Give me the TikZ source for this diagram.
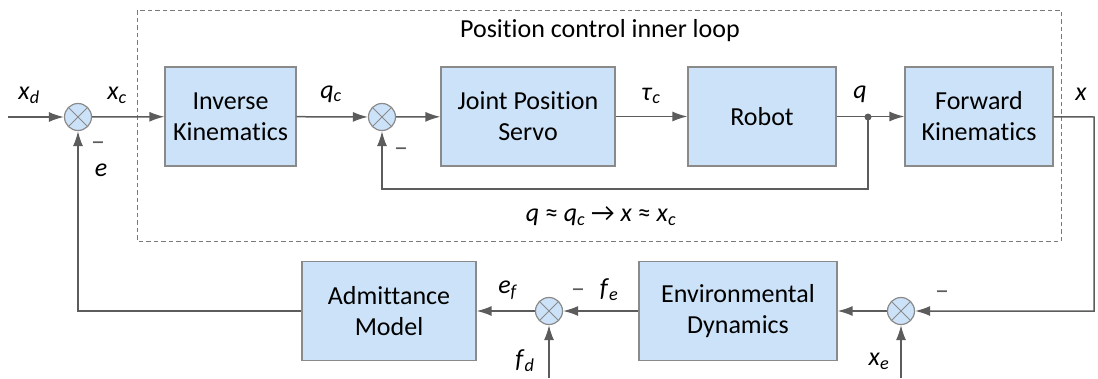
\documentclass[tikz,border=0pt]{standalone}
\usepackage{fontspec}
\setmainfont[Ligatures=NoCommon]{Carlito}
\usetikzlibrary{arrows.meta}

\definecolor{blockfill}{HTML}{CCE2F8}
\definecolor{blockline}{HTML}{8A8A8A}
\definecolor{sigline}{HTML}{5C5C5C}
\definecolor{framegray}{HTML}{7A7A7A}

% italic signal name with an italic subscript
\newcommand{\sig}[2]{\textit{#1}\textsubscript{\textit{#2}}}

\tikzset{
	block/.style={draw=blockline, fill=blockfill, line width=1.2pt, minimum height=99pt, align=center, inner sep=0pt},
	summer/.style={circle, draw=blockline, fill=blockfill, line width=1.2pt, minimum size=27pt, inner sep=0pt,
		path picture={\draw[blockline, line width=1pt]
			(path picture bounding box.north west) -- (path picture bounding box.south east)
			(path picture bounding box.north east) -- (path picture bounding box.south west);}},
	signal/.style={draw=sigline, line width=1.5pt},
	minus/.style={text=sigline, font=\fontsize{28}{30}\selectfont},
	>={Latex[length=15pt,width=10pt]},
}

\begin{document}
\begin{tikzpicture}[x=1pt,y=-1pt,font=\fontsize{26}{31}\selectfont]
	\useasboundingbox (0,0) rectangle (1098,378);

	% inner position loop
	\draw[framegray, line width=1pt, dash pattern=on 4.5pt off 3pt] (137,10) rectangle (1061,241);
	\node (looplabel) at (600,31) {Position control inner loop};

	% upper row
	\node[summer] (sumx) at (78,117) {};
	\node[block, minimum width=131pt] (invkin) at (230.5,116.5) {Inverse\\Kinematics};
	\node[summer] (sumq) at (382,117) {};
	\node[block, minimum width=174pt] (servo) at (528,116.5) {Joint Position\\Servo};
	\node[block, minimum width=148pt] (robot) at (762,116.5) {Robot};
	\node[block, minimum width=148pt] (fwdkin) at (979,116.5) {Forward\\Kinematics};
	\coordinate (xdin) at (8,117);
	\coordinate (tap) at (868,117);
	\coordinate (xout) at (1094,117);

	% lower row
	\node[block, minimum width=174pt] (admit) at (389,311) {Admittance\\Model};
	\node[summer] (sumf) at (549,311) {};
	\node[block, minimum width=198pt] (envdyn) at (738,311) {Environmental\\Dynamics};
	\node[summer] (sume) at (901,311) {};
	\coordinate (fdin) at (549,378);
	\coordinate (xein) at (901,378);

	% signals
	\draw[signal,->] (xdin) -- (sumx);
	\draw[signal,->] (sumx) -- (invkin);
	\draw[signal,->] (invkin) -- (sumq);
	\draw[signal,->] (sumq) -- (servo);
	\draw[signal,->] (servo) -- (robot);
	\draw[signal,->] (robot) -- (fwdkin);
	\draw[signal,->] (tap) -- ++(0,72) -| (sumq);
	\fill[sigline] (tap) circle (3.5pt);
	\draw[signal,->] (fwdkin) -- (xout) |- (sume);
	\draw[signal,->] (sume) -- (envdyn);
	\draw[signal,->] (envdyn) -- (sumf);
	\draw[signal,->] (sumf) -- (admit);
	\draw[signal,->] (admit) -| (sumx);
	\draw[signal,->] (fdin) -- (sumf);
	\draw[signal,->] (xein) -- (sume);

	% signal names
	\node (xd) at (29,95) {\sig{x}{d}};
	\node (xc) at (117,95) {\sig{x}{c}};
	\node (qc) at (331,94) {\sig{q}{c}};
	\node (tauc) at (651,96) {\sig{τ}{c}};
	\node (q) at (860,94) {\textit{q}};
	\node (x) at (1081,94) {\textit{x}};
	\node (e) at (101,170) {\textit{e}};
	\node (ef) at (508,290) {\sig{e}{f}};
	\node (fe) at (609,290) {\sig{f}{e}};
	\node (fd) at (525,361) {\sig{f}{d}};
	\node (xe) at (879,361) {\sig{x}{e}};
	\node (approx) at (601,216) {\textit{q} ≈ \sig{q}{c} → \textit{x} ≈ \sig{x}{c}};

	% minus signs at the summing points
	\node[minus] (mx) at (98,146) {–};
	\node[minus] (mq) at (401,152) {–};
	\node[minus] (mf) at (578,293) {–};
	\node[minus] (me) at (942,295) {–};
\end{tikzpicture}
\end{document}
